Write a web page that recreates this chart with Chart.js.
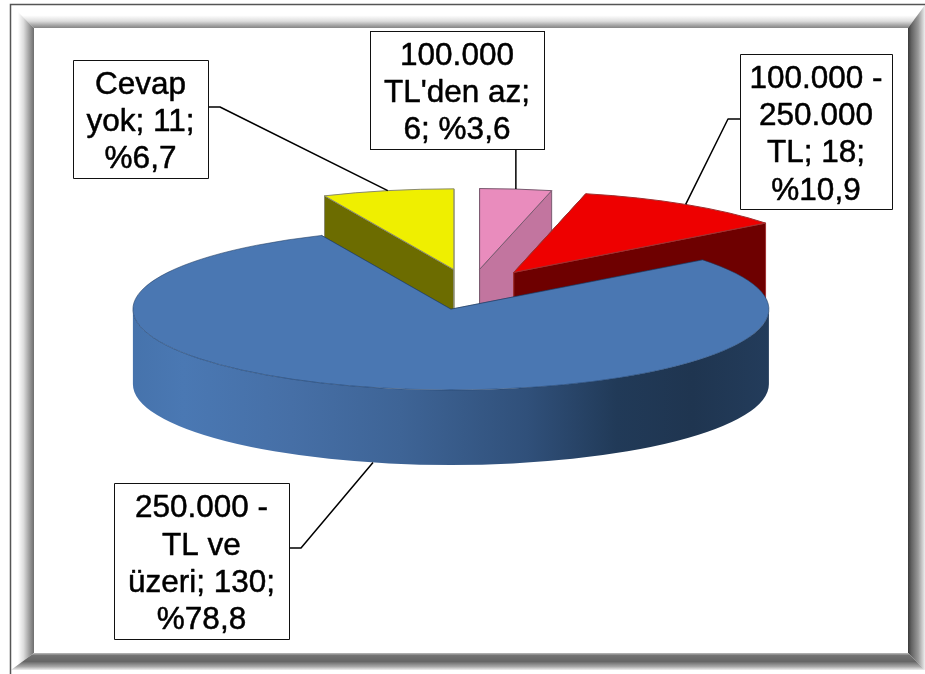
<!DOCTYPE html>
<html>
<head>
<meta charset="utf-8">
<style>html,body{margin:0;padding:0;background:#fff}canvas{display:block}</style>
<script src="https://cdn.jsdelivr.net/npm/chart.js@4"></script>
</head>
<body>
<canvas id="c" width="925" height="674"></canvas>
<script>
const categories = ["100.000 TL'den az", "100.000 - 250.000 TL", "250.000 - TL ve üzeri", "Cevap yok"];
const values = [6, 18, 130, 11];
const percents = ["%3,6", "%10,9", "%78,8", "%6,7"];
const labelLines = [
  ["100.000", "TL'den az;", "6; %3,6"],
  ["100.000 -", "250.000", "TL; 18;", "%10,9"],
  ["250.000 -", "TL ve", "üzeri; 130;", "%78,8"],
  ["Cevap", "yok; 11;", "%6,7"]
];
const topColors = ["#E98CBD", "#EE0000", "#4A77B2", "#EFEF00"];
const sideColors = ["#C2759F", "#6E0000", "#3A5F8F", "#6C6C00"];
const edgeColors = ["#7A5A70", "#A03030", "rgba(30,58,96,0.55)", "#8A8A70"];

// layout (not data)
const CENTER = {x: 470.5, y: 289.5};
const RADIUS = 318, SQUASH = 0.254, DEPTH = 75, EXPLODE = 80;
const labelBoxes = [[370, 31, 544, 149], [740, 54, 892, 209], [114, 483, 289, 639], [73, 60, 208, 178]];
const elbows = [null, [728, 119, 740, 119], [301, 548, 289, 548], [220, 107, 208, 107]];
const drawOrder = [3, 0, 1, 2];

function sliceGeom(a) {
  const mid = (a.startAngle + a.endAngle) / 2;
  return {
    cx: CENTER.x + EXPLODE * Math.cos(mid),
    cy: CENTER.y + EXPLODE * SQUASH * Math.sin(mid),
    r: a.outerRadius, ry: a.outerRadius * SQUASH, mid
  };
}
function pt(g, t) { return [g.cx + g.r * Math.cos(t), g.cy + g.ry * Math.sin(t)]; }

function cutFace(ctx, g, t, fill, edge) {
  const p = pt(g, t);
  ctx.beginPath();
  ctx.moveTo(g.cx, g.cy);
  ctx.lineTo(p[0], p[1]);
  ctx.lineTo(p[0], p[1] + DEPTH);
  ctx.lineTo(g.cx, g.cy + DEPTH);
  ctx.closePath();
  ctx.fillStyle = fill; ctx.fill();
  ctx.strokeStyle = edge; ctx.lineWidth = 1; ctx.stroke();
}

const pie3d = {
  id: 'pie3d',
  beforeDraw(chart) {
    const ctx = chart.ctx;
    ctx.save();
    ctx.fillStyle = '#fff';
    ctx.fillRect(0, 0, 925, 674);
    const O = {l: 11, t: 5, r: 925, b: 670}, I = {l: 34, t: 28, r: 908, b: 653};
    const band = (pts, x0, y0, x1, y1, stops) => {
      const g = ctx.createLinearGradient(x0, y0, x1, y1);
      stops.forEach(s => g.addColorStop(s[0], s[1]));
      ctx.beginPath();
      pts.forEach((p, i) => i ? ctx.lineTo(p[0], p[1]) : ctx.moveTo(p[0], p[1]));
      ctx.closePath();
      ctx.fillStyle = g; ctx.fill();
    };
    band([[O.l,O.t],[O.r,O.t],[I.r,I.t],[I.l,I.t]], 0, O.t, 0, I.t,
      [[0,'#fff'],[0.45,'#fff'],[0.7,'#dedede'],[0.9,'#a0a0a0'],[1,'#858585']]);
    band([[O.l,O.t],[I.l,I.t],[I.l,I.b],[O.l,O.b]], O.l, 0, I.l, 0,
      [[0,'#fff'],[0.3,'#fff'],[0.55,'#dcdcdc'],[0.85,'#919191'],[1,'#6e6e6e']]);
    band([[O.r,O.t],[O.r,O.b],[I.r,I.b],[I.r,I.t]], I.r, 0, O.r, 0,
      [[0,'#3a3a3a'],[0.2,'#626262'],[0.6,'#999'],[0.9,'#d8d8d8'],[1,'#eee']]);
    band([[O.l,O.b],[I.l,I.b],[I.r,I.b],[O.r,O.b]], 0, I.b, 0, O.b,
      [[0,'#bdbdbd'],[0.15,'#727272'],[0.5,'#666'],[0.8,'#a8a8a8'],[1,'#eee']]);
    ctx.strokeStyle = '#555'; ctx.lineWidth = 1.5;
    ctx.beginPath(); ctx.moveTo(10.5, 674); ctx.lineTo(10.5, 4.5); ctx.lineTo(925, 4.5); ctx.stroke();
    ctx.restore();
  },
  beforeDatasetsDraw(chart) {
    const ctx = chart.ctx;
    const arcs = chart.getDatasetMeta(0).data;
    drawOrder.forEach(i => {
      const a = arcs[i], g = sliceGeom(a);
      ctx.save();
      cutFace(ctx, g, a.startAngle, sideColors[i], edgeColors[i]);
      cutFace(ctx, g, a.endAngle, sideColors[i], edgeColors[i]);
      const t0 = Math.max(a.startAngle, 0), t1 = Math.min(a.endAngle, Math.PI);
      if (t1 > t0) {
        const grad = ctx.createLinearGradient(g.cx - g.r, 0, g.cx + g.r, 0);
        [[0,'#4673AC'],[0.08,'#4A78B3'],[0.25,'#466FA6'],[0.42,'#3E6496'],[0.62,'#30507A'],
         [0.76,'#213A58'],[0.88,'#1F3550'],[1,'#233C5B']].forEach(s => grad.addColorStop(s[0], s[1]));
        ctx.beginPath();
        ctx.ellipse(g.cx, g.cy, g.r, g.ry, 0, t0, t1);
        ctx.ellipse(g.cx, g.cy + DEPTH, g.r, g.ry, 0, t1, t0, true);
        ctx.closePath();
        ctx.fillStyle = grad; ctx.fill();
      }
      // top face: the library's own arc element, flattened onto the pie plane
      ctx.save();
      ctx.translate(g.cx, g.cy);
      ctx.scale(1, SQUASH);
      ctx.translate(-a.x, -a.y);
      a.draw(ctx);
      ctx.restore();
      ctx.beginPath();
      ctx.moveTo(g.cx, g.cy);
      ctx.ellipse(g.cx, g.cy, g.r, g.ry, 0, a.startAngle, a.endAngle);
      ctx.closePath();
      ctx.strokeStyle = edgeColors[i]; ctx.lineWidth = 1; ctx.stroke();
      ctx.restore();
    });
    return false;
  },
  afterDraw(chart) {
    const ctx = chart.ctx;
    const arcs = chart.getDatasetMeta(0).data;
    ctx.save();
    arcs.forEach((a, i) => {
      const g = sliceGeom(a), p = pt(g, g.mid);
      const front = Math.sin(g.mid) > 0;
      ctx.strokeStyle = '#000'; ctx.lineWidth = 1.5;
      ctx.beginPath();
      ctx.moveTo(p[0], p[1] + (front ? DEPTH : 0));
      const box = labelBoxes[i], e = elbows[i];
      if (e) { ctx.lineTo(e[0], e[1]); ctx.lineTo(e[2], e[3]); }
      else ctx.lineTo(p[0], box[3]);
      ctx.stroke();
      ctx.fillStyle = '#fff';
      ctx.fillRect(box[0], box[1], box[2] - box[0], box[3] - box[1]);
      ctx.strokeStyle = '#111'; ctx.lineWidth = 1;
      ctx.strokeRect(box[0] + .5, box[1] + .5, box[2] - box[0], box[3] - box[1]);
      const lines = labelLines[i], lh = 37.3;
      ctx.fillStyle = '#000';
      ctx.strokeStyle = '#000'; ctx.lineWidth = 0.5; ctx.lineJoin = 'round';
      ctx.font = '31.5px "Liberation Sans", Arial, sans-serif';
      ctx.textAlign = 'center'; ctx.textBaseline = 'middle';
      const mx = (box[0] + box[2]) / 2, my = (box[1] + box[3]) / 2;
      lines.forEach((t, k) => {
        const y = my + (k - (lines.length - 1) / 2) * lh + 3.5;
        ctx.fillText(t, mx, y);
        ctx.strokeText(t, mx, y);
      });
    });
    ctx.restore();
  }
};

new Chart(document.getElementById('c'), {
  type: 'pie',
  data: {
    labels: categories,
    datasets: [{ data: values, backgroundColor: topColors, borderWidth: 0, radius: RADIUS }]
  },
  options: {
    responsive: false,
    animation: false,
    events: [],
    layout: { padding: 0 },
    plugins: { legend: { display: false }, tooltip: { enabled: false } }
  },
  plugins: [pie3d]
});
</script>
</body>
</html>
